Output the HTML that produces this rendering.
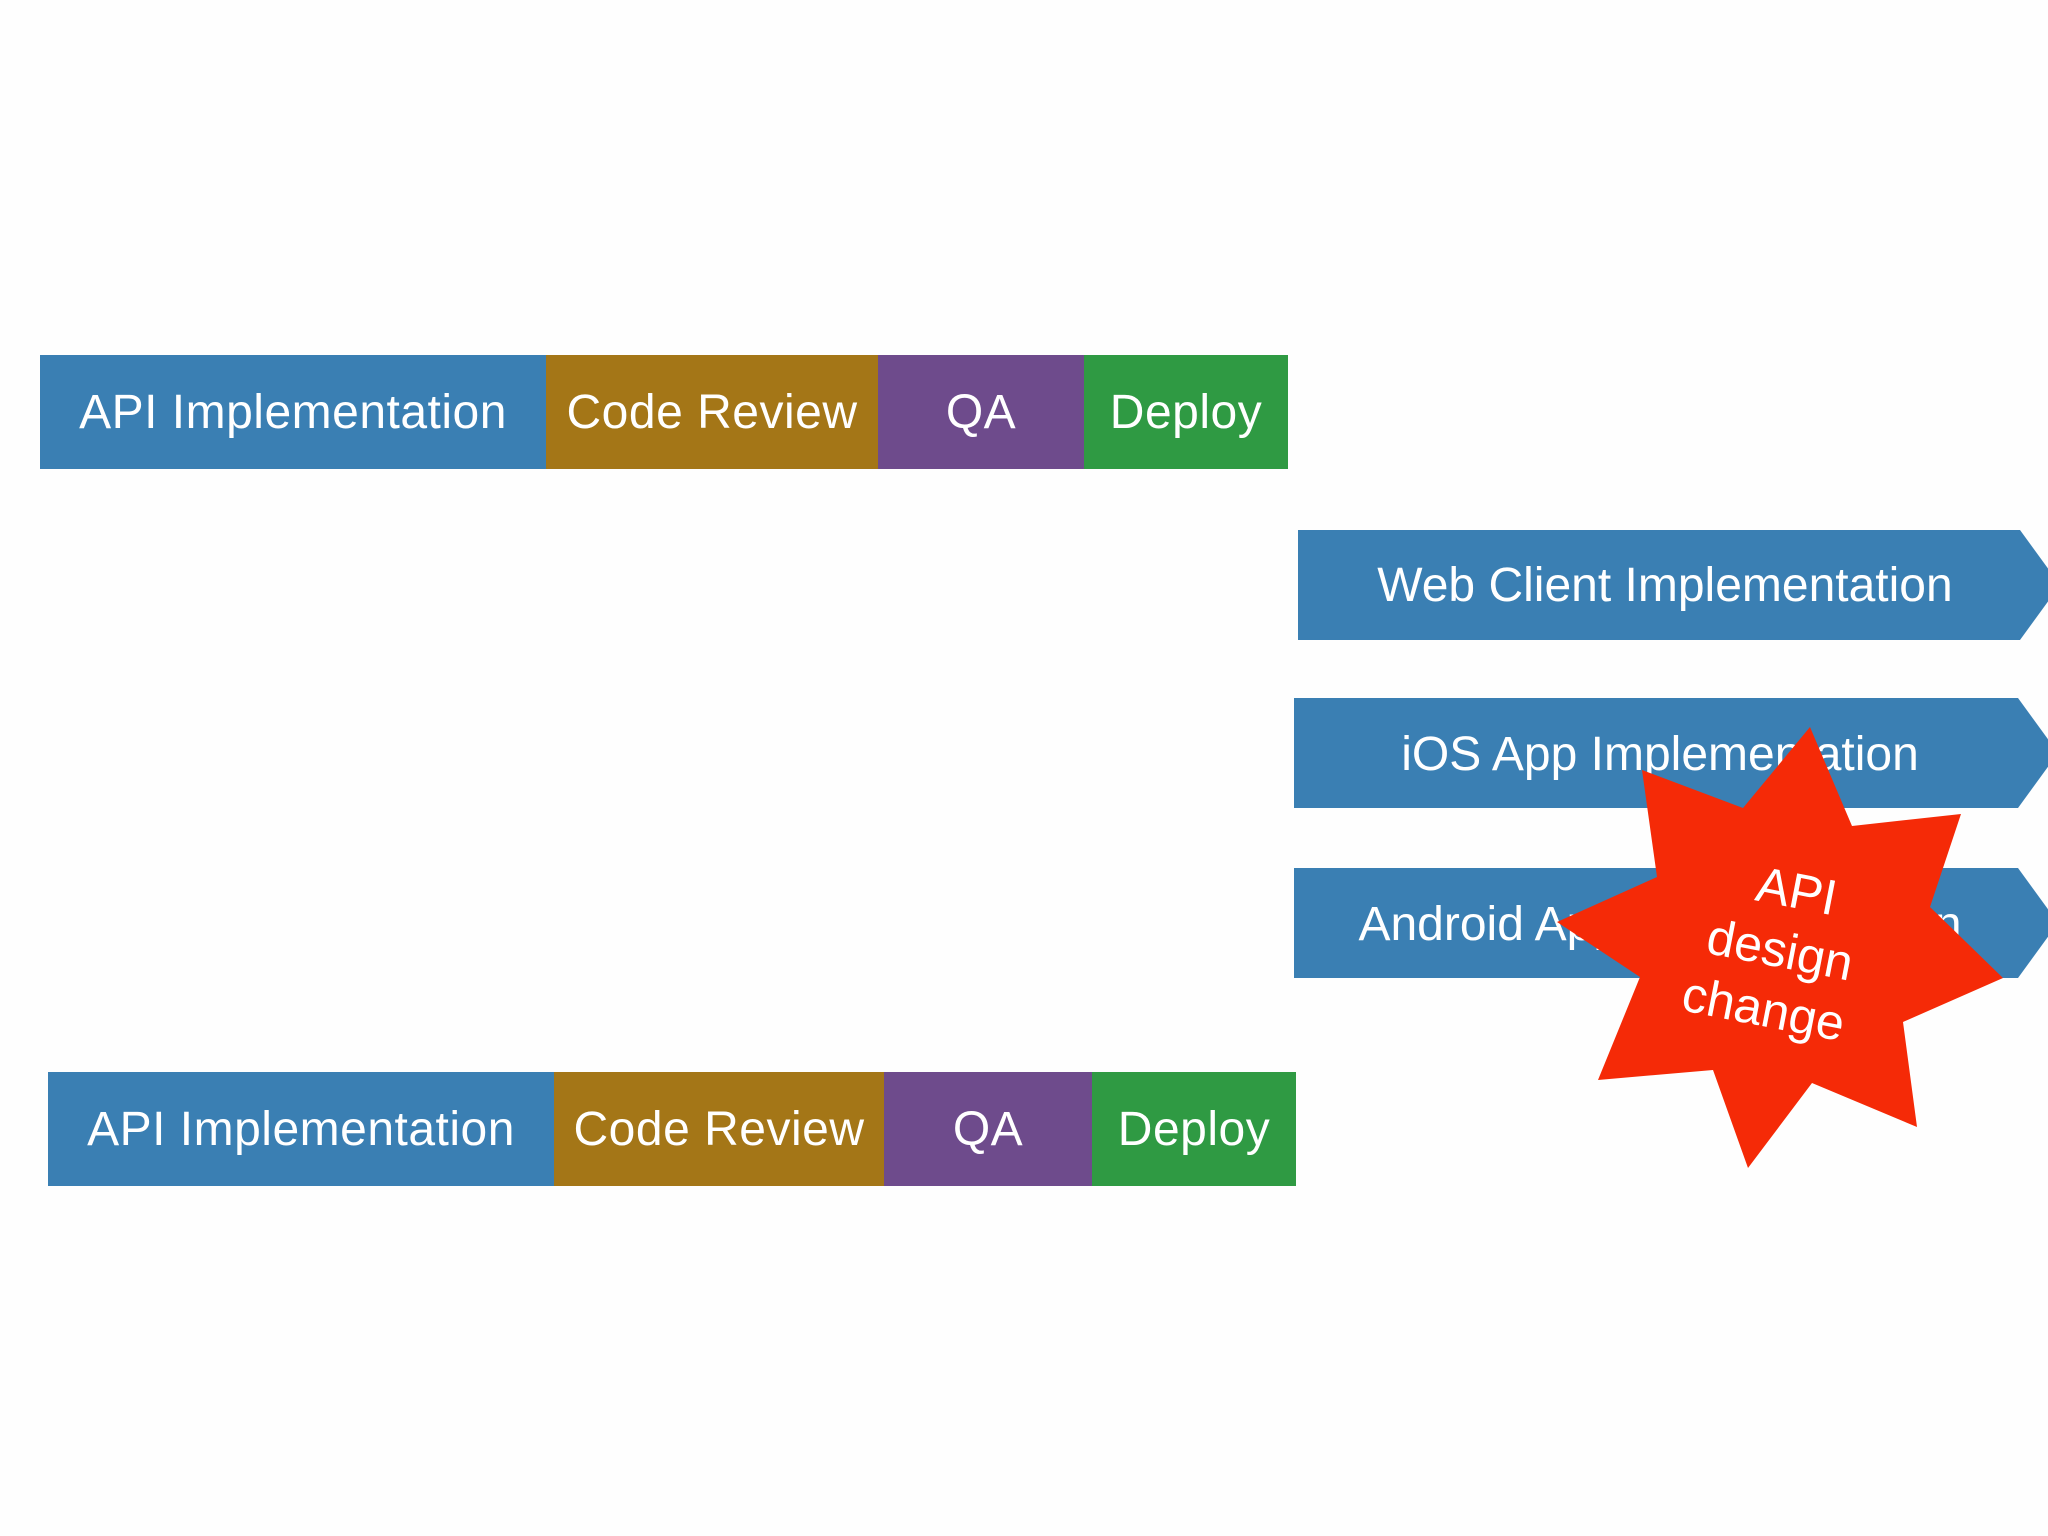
<!DOCTYPE html>
<html><head><meta charset="utf-8"><style>
html,body{margin:0;padding:0;background:#fefefe;}
body{width:2048px;height:1536px;position:relative;overflow:hidden;font-family:"Liberation Sans",sans-serif;}
.s{position:absolute;color:#fff;font-size:48px;display:flex;align-items:center;justify-content:center;white-space:nowrap;letter-spacing:0.5px;}
.b{background:#3a7fb3}.g{background:#a47617}.p{background:#6e4b8c}.gr{background:#2f9a43}
</style></head><body>
<div class="s b" style="left:40px;top:355px;width:506px;height:114px">API Implementation</div>
<div class="s g" style="left:546px;top:355px;width:332px;height:114px">Code Review</div>
<div class="s p" style="left:878px;top:355px;width:206px;height:114px">QA</div>
<div class="s gr" style="left:1084px;top:355px;width:204px;height:114px">Deploy</div>

<div class="s b" style="left:48px;top:1072px;width:506px;height:114px">API Implementation</div>
<div class="s g" style="left:554px;top:1072px;width:330px;height:114px">Code Review</div>
<div class="s p" style="left:884px;top:1072px;width:208px;height:114px">QA</div>
<div class="s gr" style="left:1092px;top:1072px;width:204px;height:114px">Deploy</div>

<svg width="2048" height="1536" style="position:absolute;left:0;top:0" font-family="Liberation Sans, sans-serif">
<g fill="#3a7fb3">
<polygon points="1298,530 2020,530 2060,585 2020,640 1298,640"/>
<polygon points="1294,698 2018,698 2058,753 2018,808 1294,808"/>
<polygon points="1294,868 2018,868 2058,923 2018,978 1294,978"/>
</g>
<g fill="#fff" font-size="48" text-anchor="middle">
<text x="1665" y="601">Web Client Implementation</text>
<text x="1660" y="770">iOS App Implementation</text>
<text x="1660" y="940">Android App Implementation</text>
</g>
<polygon fill="#f52a07" points="1810,727 1852,826 1961,814 1930,907 2003,978 1903,1022 1917,1127 1812,1083 1748,1168 1713,1070 1598,1080 1640,977 1557,922 1657,877 1642,770 1743,808"/>
<g fill="#fff" font-size="50" text-anchor="middle" transform="rotate(11 1775 950)">
<text x="1785" y="905">API</text>
<text x="1780" y="966">design</text>
<text x="1775" y="1027">change</text>
</g>
</svg>
</body></html>
